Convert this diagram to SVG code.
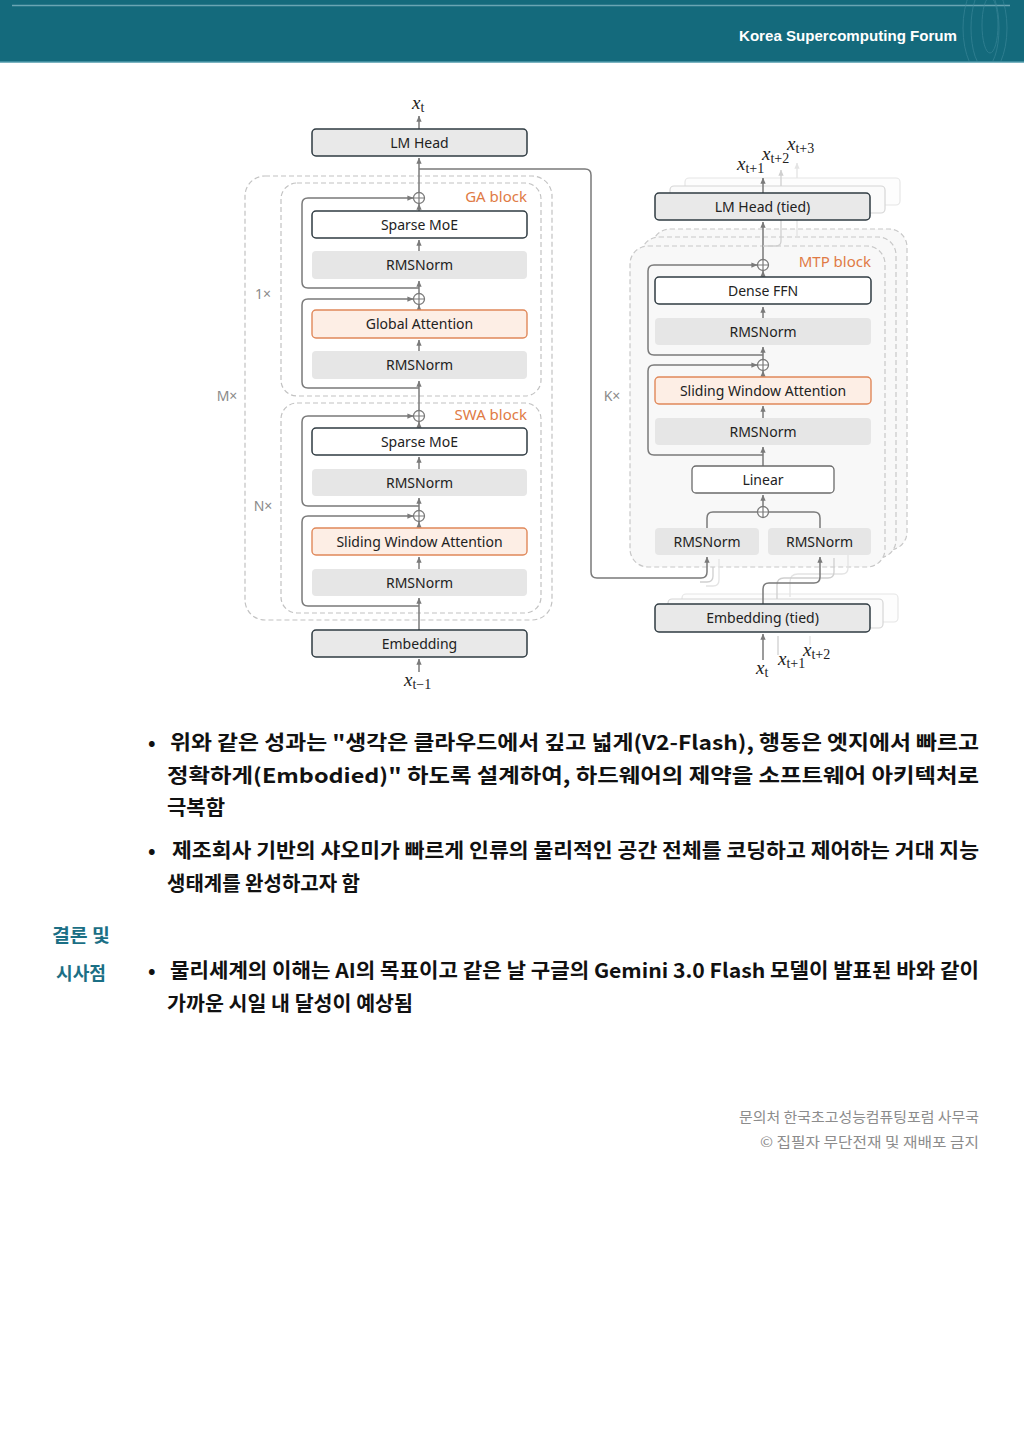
<svg xmlns="http://www.w3.org/2000/svg" xmlns:xlink="http://www.w3.org/1999/xlink" width="1024" height="1448" viewBox="0 0 1024 1448">
<style>
.lbl{font-family:"Noto Sans","Liberation Sans",sans-serif;font-size:14px;fill:#222;text-anchor:middle}
.org{font-family:"Noto Sans","Liberation Sans",sans-serif;font-size:15px;fill:#e07a45;text-anchor:end}
.dim{font-family:"Noto Sans","Liberation Sans",sans-serif;font-size:14px;fill:#8a8a8a;text-anchor:middle}
.bd{fill:#e9e9e9;stroke:#2f3b42;stroke-width:1.5}
.bw{fill:#ffffff;stroke:#2f3b42;stroke-width:1.5}
.bo{fill:#fdeee5;stroke:#e0885a;stroke-width:1.4}
.nm{fill:#e6e6e6}
.c{stroke:#7a7a7a;stroke-width:1.5;fill:none}
.cf{stroke:#cfcfcf;stroke-width:1.3;fill:none}
.cff{stroke:#e4e4e4;stroke-width:1.3;fill:none}
.ds{stroke:#c2c2c2;stroke-width:1.2;stroke-dasharray:5 3;fill:none}
.dsf{stroke:#c8c8c8;stroke-width:1.2;stroke-dasharray:5 3;fill:#f8f8f8}
.fr{fill:#fbfbfb;stroke:#d6d6d6;stroke-width:1.2}
.fr2{fill:#fdfdfd;stroke:#e6e6e6;stroke-width:1.2}
.m{font-family:"Liberation Serif","DejaVu Serif",serif;font-size:19px;fill:#222}
.body{font-family:"Noto Sans CJK KR","Noto Sans",sans-serif;font-size:20px;font-weight:700;fill:#111}
.side{font-family:"Noto Sans CJK KR","Noto Sans",sans-serif;font-size:18px;font-weight:700;fill:#1b6f85}
.foot{font-family:"Noto Sans CJK KR","Noto Sans",sans-serif;font-size:14px;fill:#8c8c8c}
</style>
<defs>
<marker id="ah" viewBox="0 0 8 8" refX="7.5" refY="4" markerWidth="6" markerHeight="6" orient="auto" markerUnits="userSpaceOnUse"><path d="M0,0.5 L8,4 L0,7.5 z" fill="#7a7a7a"/></marker>
<marker id="ahf" viewBox="0 0 8 8" refX="7.5" refY="4" markerWidth="6" markerHeight="6" orient="auto" markerUnits="userSpaceOnUse"><path d="M0,0.5 L8,4 L0,7.5 z" fill="#cfcfcf"/></marker>
<marker id="ahff" viewBox="0 0 8 8" refX="7.5" refY="4" markerWidth="6" markerHeight="6" orient="auto" markerUnits="userSpaceOnUse"><path d="M0,0.5 L8,4 L0,7.5 z" fill="#e4e4e4"/></marker>
<g id="pl"><circle r="5.5" fill="#fff" stroke="#7a7a7a" stroke-width="1.3"/><path d="M-5.5,0 H5.5 M0,-5.5 V5.5" stroke="#7a7a7a" stroke-width="1.2"/></g>
<clipPath id="hdr"><rect x="0" y="0" width="1024" height="61"/></clipPath>
</defs>

<!-- header -->
<g id="header">
<rect x="0" y="0" width="1024" height="62" fill="#146a7c"/>
<line x1="12" y1="5.5" x2="1010" y2="5.5" stroke="#6aa5b3" stroke-width="1.5"/>
<line x1="0" y1="62" x2="1024" y2="62" stroke="#4f9aab" stroke-width="1.5"/>
<g fill="none" stroke="#3f8a9c" stroke-width="1" opacity="0.6" clip-path="url(#hdr)">
<ellipse cx="985" cy="28" rx="14" ry="40"/>
<ellipse cx="985" cy="28" rx="22" ry="48"/>
<ellipse cx="990" cy="25" rx="8" ry="28"/>
</g>
<text x="739" y="41" font-family="'Liberation Sans','Noto Sans',sans-serif" font-size="15" font-weight="700" fill="#ffffff" textLength="218" lengthAdjust="spacingAndGlyphs">Korea Supercomputing Forum</text>
</g>

<!-- left frames -->
<g id="left-frames">
<rect class="ds" x="245" y="176" width="307" height="444" rx="20"/>
<rect class="ds" x="281" y="183" width="260" height="213" rx="16"/>
<rect class="ds" x="281" y="403" width="260" height="210" rx="16"/>
<text class="dim" x="227" y="401">M×</text>
<text class="dim" x="263" y="299">1×</text>
<text class="dim" x="263" y="511">N×</text>
<text class="org" x="527" y="202">GA block</text>
<text class="org" x="527" y="420">SWA block</text>
</g>

<!-- right frames -->
<g id="right-frames">
<rect class="dsf" x="652" y="229" width="255" height="321" rx="18"/>
<rect class="dsf" x="641" y="237" width="255" height="321" rx="18"/>
<rect class="dsf" x="630" y="246" width="255" height="321" rx="18"/>
<text class="dim" x="612" y="401">K×</text>
<text class="org" x="871" y="267">MTP block</text>
<rect class="fr2" x="685" y="178" width="215" height="27" rx="4"/>
<rect class="fr" x="670" y="186" width="215" height="27" rx="4"/>
<rect class="fr2" x="682" y="594" width="216" height="28" rx="4"/>
<rect class="fr" x="668" y="599" width="215" height="29" rx="4"/>
</g>

<!-- connectors -->
<g id="connectors">
<path class="c" d="M419,672 V659" marker-end="url(#ah)"/>
<path class="c" d="M419,630 V598" marker-end="url(#ah)"/>
<path class="c" d="M419,569 V557" marker-end="url(#ah)"/>
<path class="c" d="M419,528 V522" marker-end="url(#ah)"/>
<path class="c" d="M419,510.5 V498" marker-end="url(#ah)"/>
<path class="c" d="M419,469 V457" marker-end="url(#ah)"/>
<path class="c" d="M419,428 V422" marker-end="url(#ah)"/>
<path class="c" d="M419,410.5 V381" marker-end="url(#ah)"/>
<path class="c" d="M419,351 V340" marker-end="url(#ah)"/>
<path class="c" d="M419,310 V305" marker-end="url(#ah)"/>
<path class="c" d="M419,293.5 V281" marker-end="url(#ah)"/>
<path class="c" d="M419,251 V240" marker-end="url(#ah)"/>
<path class="c" d="M419,211 V204" marker-end="url(#ah)"/>
<path class="c" d="M419,192.5 V158" marker-end="url(#ah)"/>
<path class="c" d="M419,129 V116" marker-end="url(#ah)"/>
<path class="c" d="M419,288 H308 Q302,288 302,282 V204 Q302,198 308,198 H413" marker-end="url(#ah)"/>
<path class="c" d="M419,388 H308 Q302,388 302,382 V305 Q302,299 308,299 H413" marker-end="url(#ah)"/>
<path class="c" d="M419,506 H308 Q302,506 302,500 V422 Q302,416 308,416 H413" marker-end="url(#ah)"/>
<path class="c" d="M419,606 H308 Q302,606 302,600 V522 Q302,516 308,516 H413" marker-end="url(#ah)"/>
<path class="c" d="M419,169 H585 Q591,169 591,175 V572 Q591,578 597,578 H701 Q707,578 707,572 V557" marker-end="url(#ah)"/>
<path class="cf" d="M700,582 H707 Q713,582 713,576 V567"/>
<path class="cff" d="M706,586 H713 Q719,586 719,580 V559"/>
<path class="cff" d="M790,597 V582 Q790,574 798,574 H842 Q848,574 848,568 V550"/>
<path class="cf" d="M777,599 V585 Q777,578 784,578 H828 Q834,578 834,572 V558"/>
<path class="c" d="M763,604 V589 Q763,583 769,583 H814 Q820,583 820,577 V557" marker-end="url(#ah)"/>
<path class="c" d="M763,660 V634" marker-end="url(#ah)"/>
<path class="cf" d="M778,636 V655"/>
<path class="cff" d="M810,636 V645"/>
<path class="c" d="M707,528 V518 Q707,512 713,512 H757.5"/>
<path class="c" d="M820,528 V518 Q820,512 814,512 H768.5"/>
<path class="c" d="M763,506.5 V495" marker-end="url(#ah)"/>
<path class="c" d="M763,466 V447" marker-end="url(#ah)"/>
<path class="c" d="M763,418 V406" marker-end="url(#ah)"/>
<path class="c" d="M763,377 V371" marker-end="url(#ah)"/>
<path class="c" d="M763,359.5 V347" marker-end="url(#ah)"/>
<path class="c" d="M763,318 V307" marker-end="url(#ah)"/>
<path class="c" d="M763,277 V271" marker-end="url(#ah)"/>
<path class="c" d="M763,259.5 V222" marker-end="url(#ah)"/>
<path class="c" d="M763,455 H654 Q648,455 648,449 V371 Q648,365 654,365 H757" marker-end="url(#ah)"/>
<path class="c" d="M763,355 H654 Q648,355 648,349 V271 Q648,265 654,265 H757" marker-end="url(#ah)"/>
<path class="cf" d="M763,246 H776 Q781,246 781,241 V214"/>
<path class="cff" d="M797,238 V206"/>
<path class="c" d="M763,193 V178" marker-end="url(#ah)"/>
<path class="cf" d="M781,186 V170" marker-end="url(#ahf)"/>
<path class="cff" d="M797,178 V163" marker-end="url(#ahff)"/>
<use xlink:href="#pl" x="419" y="198"/>
<use xlink:href="#pl" x="419" y="299"/>
<use xlink:href="#pl" x="419" y="416"/>
<use xlink:href="#pl" x="419" y="516"/>
<use xlink:href="#pl" x="763" y="265"/>
<use xlink:href="#pl" x="763" y="365"/>
<use xlink:href="#pl" x="763" y="512"/>
</g>

<!-- left nodes -->
<g id="lm-head"><rect class="bd" x="312" y="129" width="215" height="27" rx="4"/><text class="lbl" x="419.5" y="147.5">LM Head</text></g>
<g id="ga-moe"><rect class="bw" x="312" y="211" width="215" height="27" rx="4"/><text class="lbl" x="419.5" y="229.5">Sparse MoE</text></g>
<g id="ga-norm2"><rect class="nm" x="312" y="251" width="215" height="28" rx="4"/><text class="lbl" x="419.5" y="270">RMSNorm</text></g>
<g id="ga-attn"><rect class="bo" x="312" y="310" width="215" height="28" rx="4"/><text class="lbl" x="419.5" y="329">Global Attention</text></g>
<g id="ga-norm1"><rect class="nm" x="312" y="351" width="215" height="28" rx="4"/><text class="lbl" x="419.5" y="370">RMSNorm</text></g>
<g id="swa-moe"><rect class="bw" x="312" y="428" width="215" height="27" rx="4"/><text class="lbl" x="419.5" y="446.5">Sparse MoE</text></g>
<g id="swa-norm2"><rect class="nm" x="312" y="469" width="215" height="27" rx="4"/><text class="lbl" x="419.5" y="487.5">RMSNorm</text></g>
<g id="swa-attn"><rect class="bo" x="312" y="528" width="215" height="27" rx="4"/><text class="lbl" x="419.5" y="546.5">Sliding Window Attention</text></g>
<g id="swa-norm1"><rect class="nm" x="312" y="569" width="215" height="27" rx="4"/><text class="lbl" x="419.5" y="587.5">RMSNorm</text></g>
<g id="embedding"><rect class="bd" x="312" y="630" width="215" height="27" rx="4"/><text class="lbl" x="419.5" y="648.5">Embedding</text></g>

<!-- right nodes -->
<g id="lm-head-tied"><rect class="bd" x="655" y="193" width="215" height="27" rx="4"/><text class="lbl" x="762.5" y="211.5">LM Head (tied)</text></g>
<g id="mtp-ffn"><rect class="bw" x="655" y="277" width="216" height="27" rx="4"/><text class="lbl" x="763" y="295.5">Dense FFN</text></g>
<g id="mtp-norm2"><rect class="nm" x="655" y="318" width="216" height="27" rx="4"/><text class="lbl" x="763" y="336.5">RMSNorm</text></g>
<g id="mtp-attn"><rect class="bo" x="655" y="377" width="216" height="27" rx="4"/><text class="lbl" x="763" y="395.5">Sliding Window Attention</text></g>
<g id="mtp-norm1"><rect class="nm" x="655" y="418" width="216" height="27" rx="4"/><text class="lbl" x="763" y="436.5">RMSNorm</text></g>
<g id="mtp-linear"><rect x="692" y="466" width="142" height="27" rx="4" fill="#fff" stroke="#6a6a6a" stroke-width="1.3"/><text class="lbl" x="763" y="484.5">Linear</text></g>
<g id="mtp-norm-a"><rect class="nm" x="655" y="528" width="104" height="27" rx="4"/><text class="lbl" x="707" y="546.5">RMSNorm</text></g>
<g id="mtp-norm-b"><rect class="nm" x="768" y="528" width="103" height="27" rx="4"/><text class="lbl" x="819.5" y="546.5">RMSNorm</text></g>
<g id="embedding-tied"><rect class="bd" x="655" y="604" width="215" height="28" rx="4"/><text class="lbl" x="762.5" y="623">Embedding (tied)</text></g>

<!-- math labels -->
<g id="math-labels">
<text class="m" x="412" y="109"><tspan font-style="italic">x</tspan><tspan font-size="14" dy="3">t</tspan></text>
<text class="m" x="404" y="686"><tspan font-style="italic">x</tspan><tspan font-size="14" dy="3">t−1</tspan></text>
<text class="m" x="737" y="170"><tspan font-style="italic">x</tspan><tspan font-size="14" dy="3">t+1</tspan></text>
<text class="m" x="762" y="160"><tspan font-style="italic">x</tspan><tspan font-size="14" dy="3">t+2</tspan></text>
<text class="m" x="787" y="150"><tspan font-style="italic">x</tspan><tspan font-size="14" dy="3">t+3</tspan></text>
<text class="m" x="756" y="674"><tspan font-style="italic">x</tspan><tspan font-size="14" dy="3">t</tspan></text>
<text class="m" x="778" y="665"><tspan font-style="italic">x</tspan><tspan font-size="14" dy="3">t+1</tspan></text>
<text class="m" x="803" y="656"><tspan font-style="italic">x</tspan><tspan font-size="14" dy="3">t+2</tspan></text>
</g>

<!-- body text -->
<g id="body-text">
<text class="body" x="148" y="750">•</text>
<text class="body" x="170" y="750" textLength="809" lengthAdjust="spacingAndGlyphs">위와 같은 성과는 "생각은 클라우드에서 깊고 넓게(V2-Flash), 행동은 엣지에서 빠르고</text>
<text class="body" x="167" y="783" textLength="812" lengthAdjust="spacingAndGlyphs">정확하게(Embodied)"  하도록  설계하여,  하드웨어의  제약을  소프트웨어  아키텍처로</text>
<text class="body" x="167" y="815" textLength="58" lengthAdjust="spacingAndGlyphs">극복함</text>
<text class="body" x="148" y="858">•</text>
<text class="body" x="172" y="858" textLength="807" lengthAdjust="spacingAndGlyphs">제조회사  기반의  샤오미가  빠르게  인류의  물리적인  공간  전체를  코딩하고  제어하는  거대  지능</text>
<text class="body" x="167" y="891" textLength="193" lengthAdjust="spacingAndGlyphs">생태계를 완성하고자 함</text>
<text class="side" x="52" y="942" textLength="58" lengthAdjust="spacingAndGlyphs">결론 및</text>
<text class="side" x="56" y="980" textLength="50" lengthAdjust="spacingAndGlyphs">시사점</text>
<text class="body" x="148" y="978">•</text>
<text class="body" x="170" y="978" textLength="809" lengthAdjust="spacingAndGlyphs">물리세계의 이해는 AI의 목표이고 같은 날 구글의 Gemini  3.0  Flash 모델이 발표된 바와 같이</text>
<text class="body" x="167" y="1011" textLength="246" lengthAdjust="spacingAndGlyphs">가까운 시일 내 달성이 예상됨</text>
</g>

<!-- footer -->
<g id="footer">
<text class="foot" x="739" y="1122" textLength="240" lengthAdjust="spacingAndGlyphs">문의처 한국초고성능컴퓨팅포럼 사무국</text>
<text class="foot" x="760" y="1147" textLength="219" lengthAdjust="spacingAndGlyphs">© 집필자 무단전재 및 재배포 금지</text>
</g>
</svg>
